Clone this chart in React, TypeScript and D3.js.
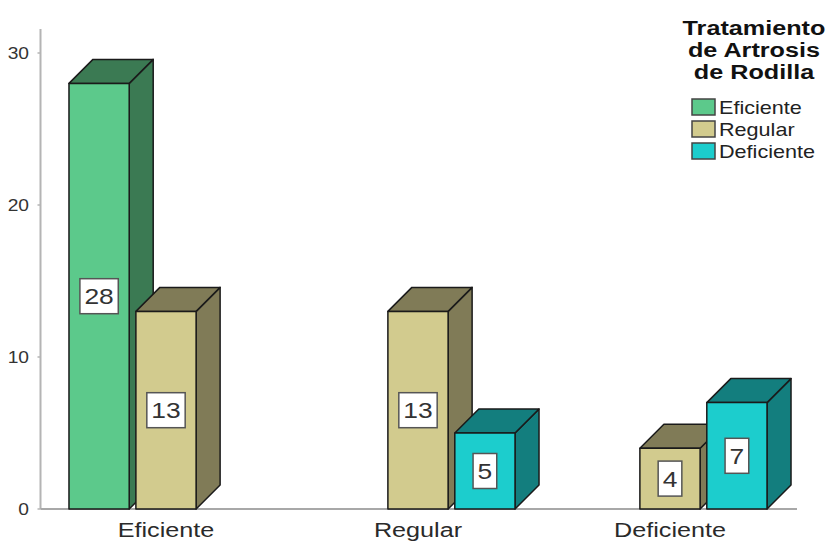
import React from "react";
import * as d3 from "d3";

// Grouped 3D bar chart: knee osteoarthritis treatment outcome by category
const categories = ["Eficiente", "Regular", "Deficiente"];
const seriesNames = ["Eficiente", "Regular", "Deficiente"];
const valuesEficiente = [28, 0, 0];
const valuesRegular = [13, 13, 4];
const valuesDeficiente = [0, 5, 7];
const yTicks = [0, 10, 20, 30];
const legendTitle = ["Tratamiento", "de Artrosis", "de Rodilla"];

const frontColors = ["#5cc98b", "#d2cb8e", "#1ccdcd"];
const sideColors = ["#3b7a53", "#807b57", "#137e7e"];

const W = 832;
const H = 543;
const FONT = "'Liberation Sans', Arial, sans-serif";
const SX = 1.2; // horizontal text stretch
const DEPTH = 24;

function StretchText(props: {
  x: number;
  y: number;
  size: number;
  anchor?: string;
  weight?: string | number;
  fill?: string;
  children: React.ReactNode;
}) {
  const { x, y, size, anchor = "start", weight = "normal", fill = "#222" } = props;
  return (
    <text
      transform={`translate(${x},${y}) scale(${SX},1)`}
      fontFamily={FONT}
      fontSize={size}
      fontWeight={weight}
      textAnchor={anchor}
      fill={fill}
    >
      {props.children}
    </text>
  );
}

export default function App() {
  const seriesValues = [valuesEficiente, valuesRegular, valuesDeficiente];

  const x0 = d3
    .scaleBand<string>()
    .domain(categories)
    .range([40, 796])
    .paddingInner(0.23)
    .paddingOuter(0.115);
  const x1 = d3
    .scaleBand<string>()
    .domain(seriesNames)
    .range([0, x0.bandwidth()])
    .paddingInner(0.1)
    .paddingOuter(0);
  const y = d3.scaleLinear().domain([0, 30]).range([509, 53]);
  const y0 = y(0);
  const axisX = 40.5;

  const bars: React.ReactNode[] = [];
  const labels: React.ReactNode[] = [];
  categories.forEach((cat, ci) => {
    seriesNames.forEach((s, si) => {
      const v = seriesValues[si][ci];
      if (!v) return;
      const xa = (x0(cat) ?? 0) + (x1(s) ?? 0);
      const xb = xa + x1.bandwidth();
      const yt = y(v);
      const top = `M${xa},${yt}L${xa + DEPTH},${yt - DEPTH}L${xb + DEPTH},${yt - DEPTH}L${xb},${yt}Z`;
      const side = `M${xb},${yt}L${xb + DEPTH},${yt - DEPTH}L${xb + DEPTH},${y0 - DEPTH}L${xb},${y0}Z`;
      bars.push(
        <g key={`${cat}-${s}`} stroke="#1a1a1a" strokeWidth={1.5} strokeLinejoin="round">
          <path d={side} fill={sideColors[si]} />
          <path d={top} fill={sideColors[si]} />
          <rect x={xa} y={yt} width={xb - xa} height={y0 - yt} fill={frontColors[si]} />
        </g>
      );
      const txt = String(v);
      const fs = 22;
      const bw = txt.length * 0.556 * fs * SX + 9;
      const bh = 35;
      const cx = (xa + xb) / 2;
      const cy = (yt + y0) / 2;
      labels.push(
        <g key={`lab-${cat}-${s}`}>
          <rect
            x={cx - bw / 2}
            y={cy - bh / 2}
            width={bw}
            height={bh}
            fill="#ffffff"
            stroke="#555"
            strokeWidth={1.5}
          />
          <StretchText x={cx} y={cy + 8} size={fs} anchor="middle" fill="#333">
            {txt}
          </StretchText>
        </g>
      );
    });
  });

  return (
    <svg
      width={W}
      height={H}
      style={{ position: "absolute", left: 0, top: 0, background: "#fff" }}
    >
      <rect x={0} y={0} width={W} height={H} fill="#fff" />
      {/* y axis */}
      <line x1={axisX} x2={axisX} y1={29} y2={y0} stroke="#b4b4b4" strokeWidth={2} />
      {yTicks.map((t) => (
        <g key={t}>
          <line x1={axisX - 3} x2={axisX} y1={y(t)} y2={y(t)} stroke="#b4b4b4" strokeWidth={1.5} />
          <StretchText x={29} y={y(t) + 6} size={16} anchor="end" fill="#333">
            {t}
          </StretchText>
        </g>
      ))}
      {/* x axis */}
      <line x1={axisX} x2={797} y1={y0} y2={y0} stroke="#a8a8a8" strokeWidth={2} />
      {categories.map((c) => (
        <StretchText key={c} x={(x0(c) ?? 0) + x0.bandwidth() / 2} y={537} size={21} anchor="middle" fill="#2a2a2a">
          {c}
        </StretchText>
      ))}
      {bars}
      {labels}
      {/* legend */}
      {legendTitle.map((line, i) => (
        <StretchText key={line} x={754} y={35 + i * 22} size={21} anchor="middle" weight="bold" fill="#111">
          {line}
        </StretchText>
      ))}
      {seriesNames.map((s, i) => (
        <g key={`leg-${s}`}>
          <rect
            x={692}
            y={99 + i * 22}
            width={23}
            height={16}
            fill={frontColors[i]}
            stroke="#444"
            strokeWidth={1.5}
          />
          <StretchText x={719} y={114 + i * 22} size={18} fill="#222">
            {s}
          </StretchText>
        </g>
      ))}
    </svg>
  );
}
